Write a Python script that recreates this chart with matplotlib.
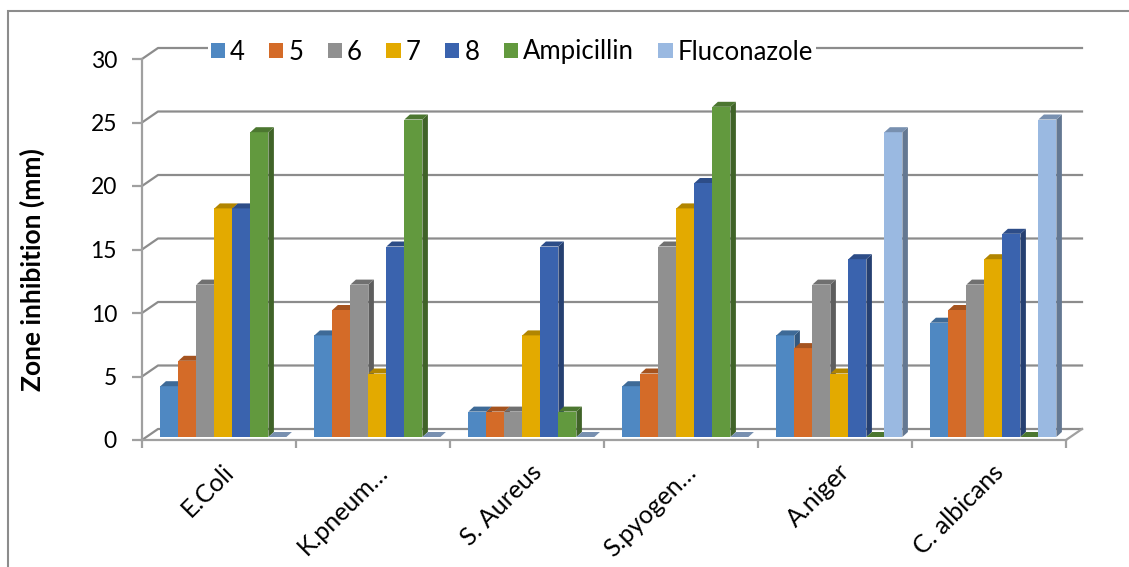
import matplotlib
matplotlib.use('Agg')
import matplotlib.pyplot as plt
from matplotlib.patches import Polygon, Rectangle, Patch
from matplotlib.transforms import IdentityTransform, offset_copy
from matplotlib.colors import to_rgb
import numpy as np

plt.rcParams['font.family'] = ['Lato', 'DejaVu Sans']

categories = ['E.Coli', 'K.pneum…', 'S. Aureus', 'S.pyogen…', 'A.niger', 'C. albicans']
series = ['4', '5', '6', '7', '8', 'Ampicillin', 'Fluconazole']
s4 = [4, 8, 2, 4, 8, 9]
s5 = [6, 10, 2, 5, 7, 10]
s6 = [12, 12, 2, 15, 12, 12]
s7 = [18, 5, 8, 18, 5, 14]
s8 = [18, 15, 15, 20, 14, 16]
ampicillin = [24, 25, 2, 26, 0, 0]
fluconazole = [0, 0, 0, 0, 24, 25]
values = [s4, s5, s6, s7, s8, ampicillin, fluconazole]
yticks = [0, 5, 10, 15, 20, 25, 30]

colors = ['#4F88C2', '#D46B28', '#909090', '#E3AA00', '#3A63AE', '#62993E', '#9AB9E1']
grid_c = '#8C8C8C'
axis_c = '#A0A0A0'

W, H = 1129, 567
fig = plt.figure(figsize=(W / 100, H / 100), dpi=100)
ax = fig.add_axes([142 / W, 1 - 440 / H, (1066 - 142) / W, (440 - 59) / H])
ax.set_xlim(-0.5, 5.5)
ax.set_ylim(0, 30)
for side in ['top', 'right']:
    ax.spines[side].set_visible(False)
for side in ['left', 'bottom']:
    ax.spines[side].set_color(axis_c)
    ax.spines[side].set_linewidth(1.6)

ax.set_yticks(yticks)
ax.tick_params(axis='y', length=7, width=1.6, color=axis_c, labelsize=16.5, pad=11)
ax.set_xticks(np.arange(len(categories) + 1) - 0.5)
ax.set_xticklabels([])
ax.tick_params(axis='x', length=6, width=1.6, color=axis_c)

# 3d offsets in pixels
wall = np.array([16.0, 11.0])
bar_off = np.array([4.4, 3.0])
depth = np.array([5.5, 5.0])
ident = IdentityTransform()


def px(x, y):
    return ax.transData.transform((x, y))


# back wall gridlines + left diagonals
for v in yticks:
    a = px(-0.5, v)
    b = px(5.5, v)
    ax.add_line(plt.Line2D([a[0], a[0] + wall[0], b[0] + wall[0]],
                           [a[1], a[1] + wall[1], b[1] + wall[1]],
                           transform=ident, color=grid_c, lw=1.6, clip_on=False, zorder=1))
# floor right edge
b = px(5.5, 0)
ax.add_line(plt.Line2D([b[0], b[0] + wall[0]], [b[1], b[1] + wall[1]],
                       transform=ident, color=axis_c, lw=1.6, clip_on=False, zorder=1))


def shade(c, f):
    return tuple(np.array(to_rgb(c)) * f)


bar_w = 18 / 154
start = 14 / 154
for i in range(len(categories)):
    for k, vals in enumerate(values):
        x0 = i - 0.5 + start + k * bar_w
        x1 = x0 + bar_w
        v = vals[i]
        p0 = px(x0, 0) + bar_off
        p1 = px(x1, 0) + bar_off
        p2 = px(x1, v) + bar_off
        p3 = px(x0, v) + bar_off
        c = colors[k]
        ax.add_patch(Polygon([p0, p1, p2, p3], closed=True, transform=ident,
                             fc=c, ec='none', clip_on=False, zorder=2))
        ax.add_patch(Polygon([p1, p1 + depth, p2 + depth, p2], closed=True, transform=ident,
                             fc=shade(c, 0.65), ec='none', clip_on=False, zorder=2))
        ax.add_patch(Polygon([p3, p2, p2 + depth, p3 + depth], closed=True, transform=ident,
                             fc=shade(c, 0.78), ec='none', clip_on=False, zorder=2))

# category labels
lab_tr = offset_copy(ax.transData, fig=fig, x=3, y=-20, units='dots')
for i, name in enumerate(categories):
    ax.text(i, 0, name, transform=lab_tr, rotation=45, rotation_mode='anchor',
            ha='right', va='top', fontsize=18)

fig.text(32 / W, 1 - 270 / H, 'Zone inhibition (mm)', rotation=90, fontweight='bold',
         fontsize=19, ha='center', va='center')

handles = [Patch(facecolor=c, edgecolor='none') for c in colors]
fig.legend(handles, series, loc='center left', bbox_to_anchor=(208 / W, 1 - 52 / H),
           ncol=7, frameon=True, facecolor='white', edgecolor='none', framealpha=1,
           fontsize=18.5, handlelength=0.55, handleheight=0.5, handletextpad=0.2,
           columnspacing=0.95, borderpad=0.1, borderaxespad=0)

# outer frame
fig.add_artist(Rectangle((8 / W, -0.1), 2, 1.1 - 11 / H, transform=fig.transFigure,
                         fill=False, ec='#8C8C8C', lw=1.5))

fig.savefig('out.png', dpi=100)
